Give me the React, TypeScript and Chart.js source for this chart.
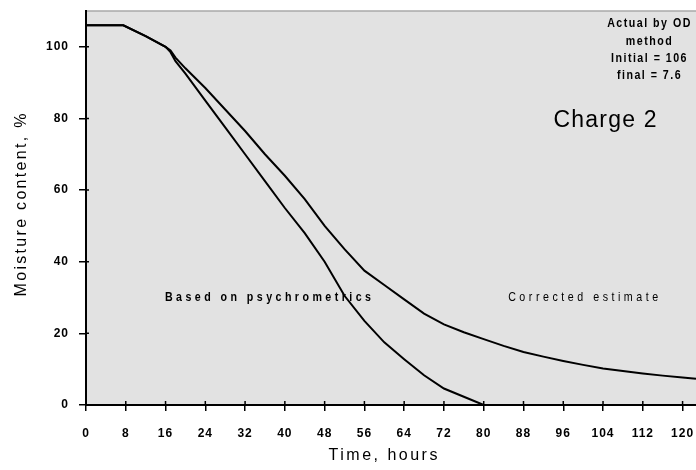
import React, { useEffect, useRef } from 'react';
import { Chart, registerables } from 'chart.js';

Chart.register(...registerables);

// ---- data ----
const xTicks = [0, 8, 16, 24, 32, 40, 48, 56, 64, 72, 80, 88, 96, 104, 112, 120];
const yTicks = [0, 20, 40, 60, 80, 100];

const psychroTime = [0, 7.5, 12, 16, 17, 18, 20, 24, 28, 32, 36, 40, 44, 48, 52, 56, 60, 64, 68, 72, 76, 80];
const psychroMoisture = [106, 106, 103, 100, 98.5, 96, 92.5, 85, 77.5, 70, 62.5, 55, 48, 40, 30.5, 23.5, 17.5, 12.8, 8.3, 4.6, 2.3, 0];

const correctedTime = [0, 7.5, 12, 16, 17, 18, 20, 24, 28, 32, 36, 40, 44, 48, 52, 56, 60, 64, 68, 72, 76, 80, 84, 88, 92, 96, 100, 104, 108, 112, 116, 120, 122.7];
const correctedMoisture = [106, 106, 103, 100, 99, 97, 94, 88.5, 82.5, 76.5, 70, 64, 57.5, 50, 43.5, 37.5, 33.5, 29.5, 25.5, 22.5, 20.3, 18.4, 16.5, 14.8, 13.5, 12.3, 11.2, 10.2, 9.5, 8.8, 8.2, 7.7, 7.3];

const noteLines = ['Actual by OD', 'method', 'Initial = 106', 'final = 7.6'];
const chargeLabel = 'Charge 2';
const psychroLabel = 'Based on psychrometrics';
const correctedLabel = 'Corrected estimate';
const xTitle = 'Time, hours';
const yTitle = 'Moisture content, %';

const X_MAX = 122.7;
const Y_MAX = 110;

const SANS = '"Liberation Sans", Arial, sans-serif';

function drawText(ctx: any, text: string, x: number, y: number, font: string, spacing: number, sx: number) {
  ctx.save();
  ctx.translate(x, y);
  ctx.scale(sx, 1);
  ctx.font = font;
  ctx.letterSpacing = `${spacing}px`;
  ctx.textAlign = 'center';
  ctx.textBaseline = 'middle';
  ctx.fillStyle = '#000';
  ctx.fillText(text, spacing / 2, 0);
  ctx.restore();
}

const decor = {
  id: 'decor',
  beforeDraw(chart: any) {
    const { ctx, chartArea: a } = chart;
    ctx.save();
    ctx.fillStyle = '#e2e2e2';
    ctx.fillRect(a.left, a.top, a.right - a.left, a.bottom - a.top);
    ctx.strokeStyle = '#a8a8a8';
    ctx.lineWidth = 1.5;
    ctx.beginPath();
    ctx.moveTo(a.left, a.top);
    ctx.lineTo(a.right, a.top);
    ctx.stroke();
    ctx.restore();
    ctx.letterSpacing = '1px';
  },
  afterDraw(chart: any) {
    const { ctx, chartArea: a, scales } = chart;
    const xs = scales.x;
    const ys = scales.y;
    ctx.save();
    ctx.letterSpacing = '0px';
    // inner tick stubs
    ctx.strokeStyle = '#000';
    ctx.lineWidth = 1.5;
    ctx.beginPath();
    xTicks.forEach((v) => {
      const px = xs.getPixelForValue(v);
      ctx.moveTo(px, a.bottom);
      ctx.lineTo(px, a.bottom - 4);
    });
    yTicks.forEach((v) => {
      const py = ys.getPixelForValue(v);
      ctx.moveTo(a.left, py);
      ctx.lineTo(a.left + 3, py);
    });
    ctx.stroke();

    // notes
    const nx = xs.getPixelForValue(113.2);
    const noteVals = [106.6, 101.6, 96.8, 92.1];
    noteLines.forEach((t, i) => {
      drawText(ctx, t, nx, ys.getPixelForValue(noteVals[i]), `bold 13px ${SANS}`, 1.8, 0.82);
    });

    drawText(ctx, chargeLabel, xs.getPixelForValue(104.4), ys.getPixelForValue(79.5), `23px ${SANS}`, 1.2, 1);
    drawText(ctx, psychroLabel, xs.getPixelForValue(36.6), ys.getPixelForValue(30.1), `bold 13px ${SANS}`, 4.2, 0.82);
    drawText(ctx, correctedLabel, xs.getPixelForValue(100), ys.getPixelForValue(30.1), `13px ${SANS}`, 4.3, 0.82);

    // axis titles
    drawText(ctx, xTitle, 383, 456, `16px ${SANS}`, 2.5, 1);
    ctx.save();
    ctx.translate(22, 205);
    ctx.rotate(-Math.PI / 2);
    drawText(ctx, yTitle, 0, 0, `16px ${SANS}`, 2.3, 1);
    ctx.restore();
    ctx.restore();
  },
};

export default function App() {
  const ref = useRef<HTMLCanvasElement>(null);
  useEffect(() => {
    document.body.style.margin = '0';
    const mk = (t: number[], m: number[]) => t.map((x, i) => ({ x, y: m[i] }));
    const chart = new Chart(ref.current!, {
      type: 'line',
      data: {
        datasets: [
          {
            data: mk(psychroTime, psychroMoisture),
            borderColor: '#000',
            borderWidth: 2,
            pointRadius: 0,
            tension: 0,
          },
          {
            data: mk(correctedTime, correctedMoisture),
            borderColor: '#000',
            borderWidth: 2,
            pointRadius: 0,
            tension: 0,
          },
        ],
      },
      options: {
        animation: false,
        responsive: false,
        maintainAspectRatio: false,
        layout: { padding: { left: 0, right: 0, top: 11, bottom: 0 } },
        plugins: { legend: { display: false }, tooltip: { enabled: false } },
        scales: {
          x: {
            type: 'linear',
            min: 0,
            max: X_MAX,
            afterBuildTicks: (s: any) => {
              s.ticks = xTicks.map((v) => ({ value: v }));
            },
            afterFit: (s: any) => {
              s.height = 65;
              s.paddingLeft = 0;
              s.paddingRight = 0;
            },
            grid: { drawOnChartArea: false, drawTicks: true, tickLength: 6, color: '#000', lineWidth: 1.5 },
            border: { display: true, color: '#000', width: 2 },
            ticks: {
              color: '#000',
              font: { family: SANS, size: 12, weight: 'bold' },
              padding: 15,
              maxRotation: 0,
              autoSkip: false,
            },
          },
          y: {
            type: 'linear',
            min: 0,
            max: Y_MAX,
            afterBuildTicks: (s: any) => {
              s.ticks = yTicks.map((v) => ({ value: v }));
            },
            afterFit: (s: any) => {
              s.width = 86;
              s.paddingTop = 0;
              s.paddingBottom = 0;
            },
            grid: { drawOnChartArea: false, drawTicks: true, tickLength: 7, color: '#000', lineWidth: 1.5 },
            border: { display: true, color: '#000', width: 2 },
            ticks: {
              color: '#000',
              font: { family: SANS, size: 12, weight: 'bold' },
              padding: 10,
              autoSkip: false,
            },
          },
        },
      },
      plugins: [decor],
    });
    return () => chart.destroy();
  }, []);
  return (
    <div style={{ position: 'fixed', left: 0, top: 0, width: 696, height: 470, background: '#fff' }}>
      <canvas ref={ref} width={696} height={470} style={{ width: 696, height: 470, display: 'block' }} />
    </div>
  );
}
